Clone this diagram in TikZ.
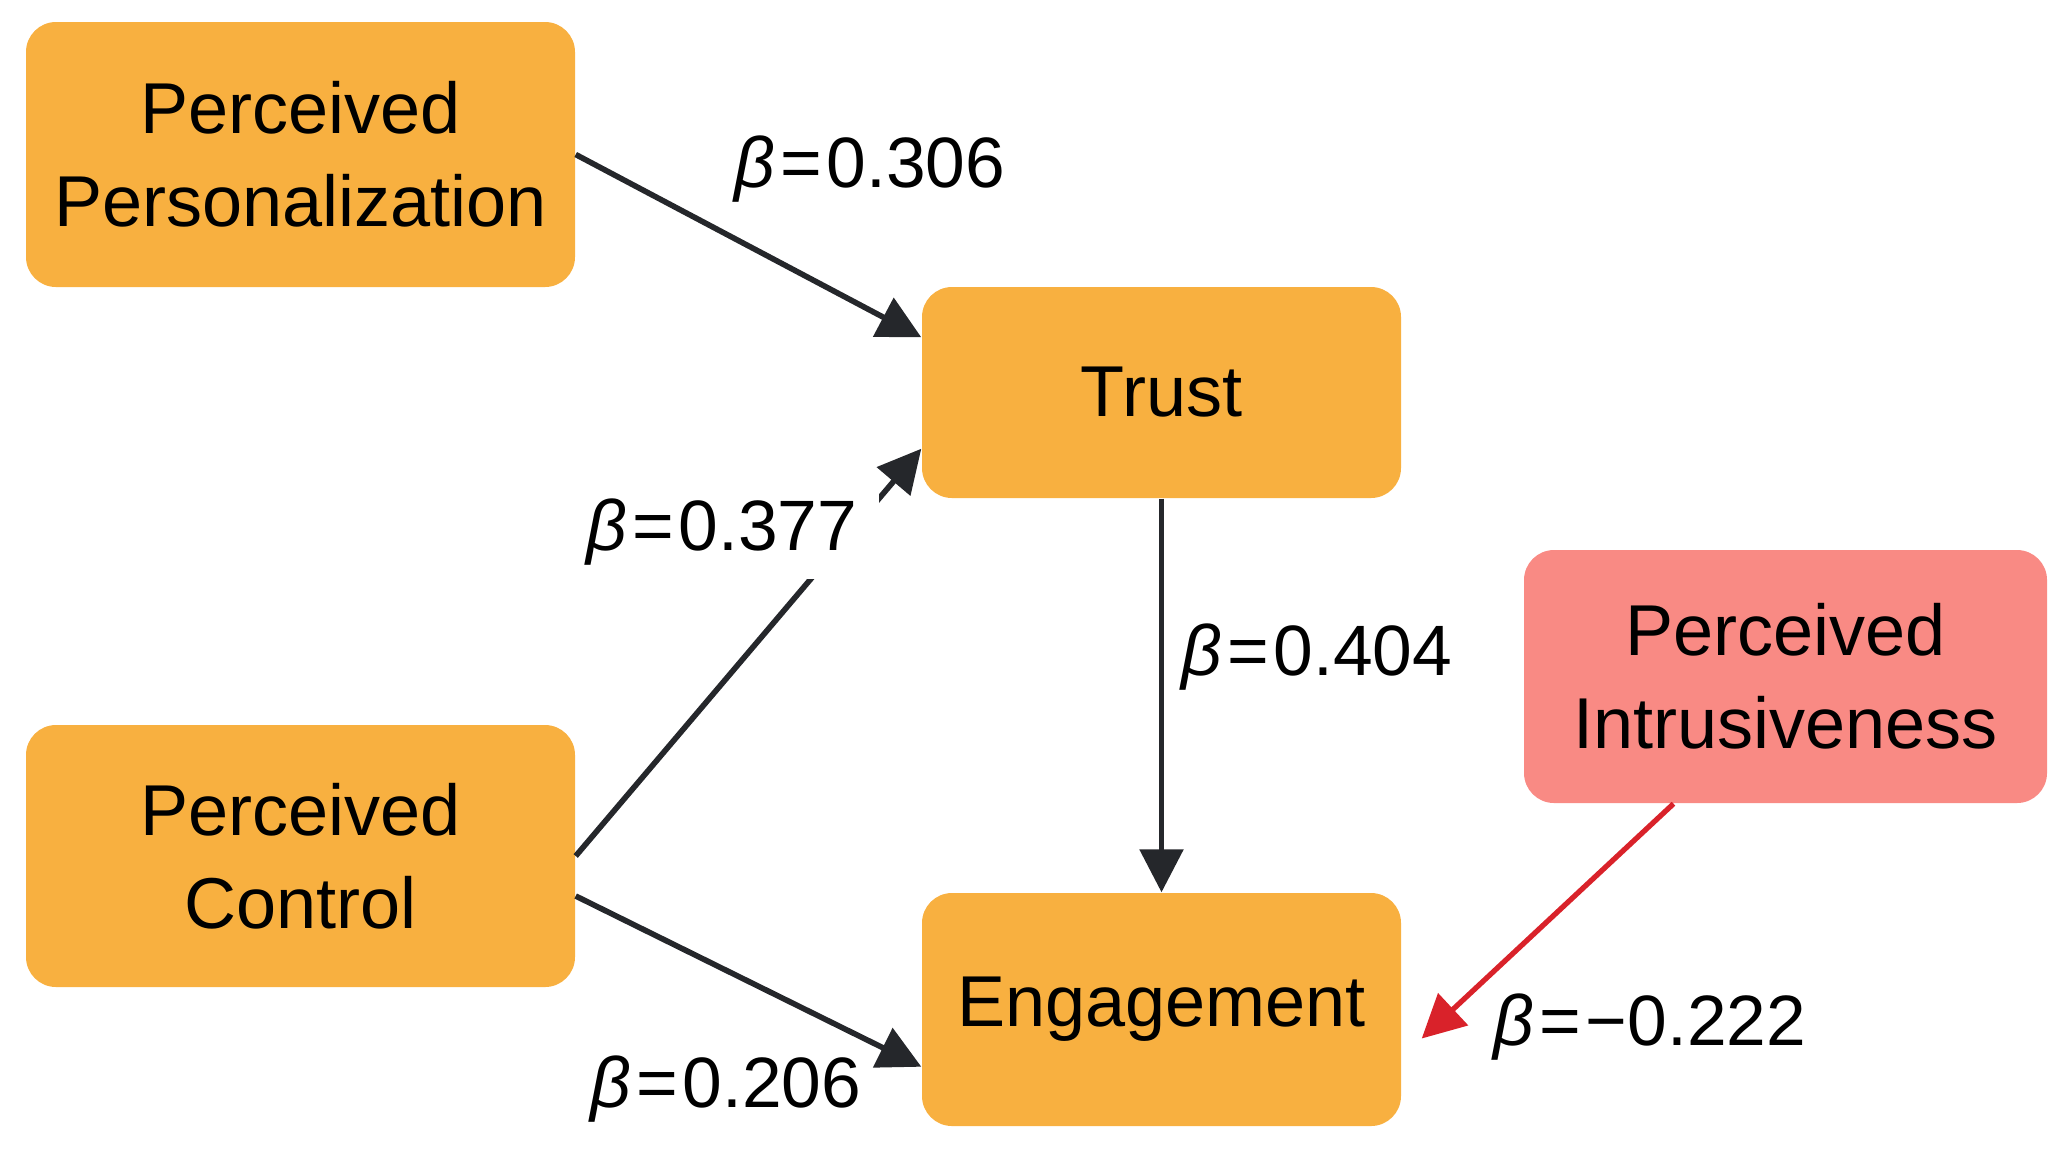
\documentclass[tikz,border=0pt]{standalone}
\usepackage{fontspec}
\setmainfont{Liberation Sans}
\usetikzlibrary{arrows.meta}
\definecolor{boxorange}{RGB}{248,176,64}
\definecolor{boxpink}{RGB}{249,138,132}
\definecolor{arrowdark}{RGB}{37,39,43}
\definecolor{arrowred}{RGB}{217,34,42}
\newcommand{\bcoef}[1]{{\itshape β}\kern1.4pt=\kern1.4pt#1}
\begin{document}
\begin{tikzpicture}[
  construct/.style={rectangle,rounded corners=0.3cm,fill=boxorange,align=center,inner sep=0pt,
    font=\fontsize{20.5}{26.5}\selectfont},
  link/.style={draw=arrowdark,line width=1.6pt,-{Triangle[length=4.3mm,width=4.3mm]}},
  coef/.style={font=\fontsize{20.3}{26.5}\selectfont,anchor=base,inner xsep=6pt,inner ysep=4pt}
]
\useasboundingbox (0,0) rectangle (20.7,-11.51);
    \node[construct,minimum width=5.49cm,minimum height=2.65cm] (pers) at (3.005,-1.545) {Perceived\\Personalization};
    \node[construct,minimum width=5.49cm,minimum height=2.62cm] (ctrl) at (3.005,-8.56) {Perceived\\Control};
    \node[construct,minimum width=4.79cm,minimum height=2.11cm] (trust) at (11.615,-3.925) {Trust};
    \node[construct,minimum width=4.79cm,minimum height=2.33cm] (eng) at (11.615,-10.095) {Engagement};
    \node[construct,fill=boxpink,minimum width=5.23cm,minimum height=2.53cm] (intr) at (17.855,-6.765) {Perceived\\Intrusiveness};
		% paths
		\draw[link] (pers.east) -- ([yshift=-5.1mm]trust.north west);
		\draw[link] (ctrl.east) -- ([yshift=5mm]trust.south west);
		\draw[link] ([yshift=-4mm]ctrl.east) -- ([yshift=6mm]eng.south west);
		\draw[link] (trust) -- (eng);
		\draw[link,draw=arrowred,line width=1.5pt] ([xshift=-11.2mm]intr.south) -- ([xshift=2mm,yshift=-2.9mm]eng.east);
		% coefficients
    \node[coef] (c306) at (8.70,-1.87) {\bcoef{0.306}};
    \node[coef,fill=white] (c377) at (7.22,-5.50) {\bcoef{0.377}};
    \node[coef] (c404) at (13.17,-6.75) {\bcoef{0.404}};
    \node[coef] (c206) at (7.26,-11.07) {\bcoef{0.206}};
    \node[coef] (c222) at (16.50,-10.45) {\bcoef{−0.222}};
\end{tikzpicture}
\end{document}
